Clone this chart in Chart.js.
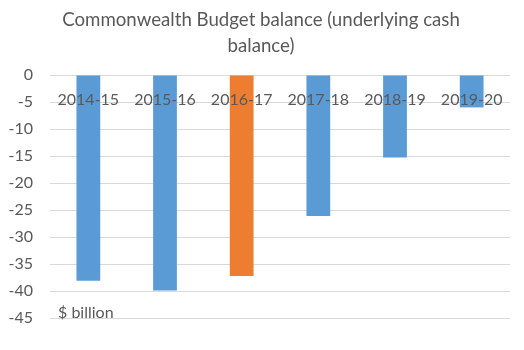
<!DOCTYPE html>
<html>
<head>
<meta charset="utf-8">
<script src="https://cdn.jsdelivr.net/npm/chart.js@4/dist/chart.umd.min.js"></script>
<style>
  html, body { margin: 0; padding: 0; background: #fff; }
  #wrap { width: 524px; height: 350px; }
</style>
</head>
<body>
<div id="wrap"><canvas id="c"></canvas></div>
<script>
// datos ($ billion)
const years = ['2014-15', '2015-16', '2016-17', '2017-18', '2018-19', '2019-20'];
const balance = [-38.1, -39.9, -37.2, -26.1, -15.3, -6.0];
const barColors = ['#5b9bd5', '#5b9bd5', '#ed7d31', '#5b9bd5', '#5b9bd5', '#5b9bd5'];
const titleLines = ['Commonwealth Budget balance (underlying cash', 'balance)'];
const unitLabel = '$ billion';

const FONT = 'Lato, "Open Sans", sans-serif';
const grey = '#595959';

// título centrado y texto de unidad dentro del área del gráfico
const textPlugin = {
  id: 'texts',
  afterDraw(chart) {
    const { ctx, chartArea, scales } = chart;
    ctx.save();
    ctx.fillStyle = grey;
    ctx.textBaseline = 'middle';

    ctx.font = '18.67px ' + FONT;
    ctx.textAlign = 'center';
    titleLines.forEach((t, i) => ctx.fillText(t, 261, 20 + i * 26));

    ctx.font = '16px ' + FONT;
    ctx.textAlign = 'left';
    ctx.fillText(unitLabel, chartArea.left + 8, scales.y.getPixelForValue(-45) - 5);
    ctx.restore();
  },
};

new Chart(document.getElementById('c'), {
  type: 'bar',
  data: {
    labels: years,
    datasets: [{
      data: balance,
      backgroundColor: barColors,
      borderWidth: 0,
      categoryPercentage: 1,
      barPercentage: 0.31,
    }],
  },
  options: {
    responsive: true,
    maintainAspectRatio: false,
    animation: false,
    layout: { padding: { top: 75, right: 14, bottom: 32, left: 0 } },
    plugins: {
      legend: { display: false },
      tooltip: { enabled: false },
    },
    scales: {
      x: {
        position: { y: 0 },
        grid: { display: false, drawTicks: false },
        border: { display: false },
        ticks: { z: 1, color: grey, font: { family: FONT, size: 16 }, padding: 15 },
      },
      y: {
        min: -45,
        max: 0,
        afterFit: (s) => { s.width = 50; },
        grid: { color: '#d9d9d9', drawTicks: false },
        border: { display: false },
        ticks: { stepSize: 5, color: grey, font: { family: FONT, size: 16 }, padding: 17 },
      },
    },
  },
  plugins: [textPlugin],
});
</script>
</body>
</html>
